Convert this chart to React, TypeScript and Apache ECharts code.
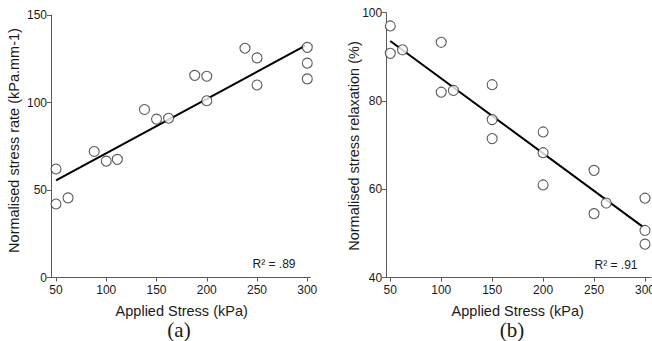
import React, { useEffect, useRef } from "react";
import * as echarts from "echarts";

// Panel (a): normalised stress rate vs applied stress
const stressA = [50, 50, 62, 88, 100, 111, 138, 150, 162, 188, 200, 200, 238, 250, 250, 300, 300, 300];
const rateA = [62, 42, 45.5, 72, 66.5, 67.5, 96, 90.5, 91, 115.5, 115, 101, 131, 125.5, 110, 131.5, 122.5, 113.5];
const fitAx = [50, 298];
const fitAy = [55.5, 132.5];

// Panel (b): normalised stress relaxation vs applied stress
const stressB = [50, 50, 62, 100, 100, 112, 150, 150, 150, 200, 200, 200, 250, 262, 250, 300, 300, 300];
const relaxB = [97, 90.8, 91.6, 93.3, 82, 82.4, 83.7, 75.8, 71.5, 73, 68.3, 61, 64.3, 56.9, 54.5, 58, 50.7, 47.6];
const fitBx = [50, 298];
const fitBy = [93.6, 51.5];

const xTicks = [50, 100, 150, 200, 250, 300];

const titleX = "Applied Stress (kPa)";
const titleYA = "Normalised stress rate (kPa.mm-1)";
const titleYB = "Normalised stress relaxation (%)";
const r2A = "R² = .89";
const r2B = "R² = .91";

const SANS = "'Liberation Sans', Arial, Helvetica, sans-serif";
const SERIF = "'Liberation Serif', 'Times New Roman', serif";
const AXIS_COLOR = "#5a5a5a";
const TEXT_COLOR = "#1a1a1a";

function xAxisCfg(gridIndex: number, min: number, max: number) {
  return {
    type: "value",
    gridIndex,
    min,
    max,
    axisLine: { show: true, onZero: false, lineStyle: { color: AXIS_COLOR, width: 1 } },
    axisTick: { show: true, length: 4, customValues: xTicks, lineStyle: { color: AXIS_COLOR } },
    axisLabel: { customValues: xTicks, margin: 6, color: TEXT_COLOR, fontSize: 12, fontFamily: SANS },
    splitLine: { show: false },
  };
}

function yAxisCfg(gridIndex: number, min: number, max: number, interval: number) {
  return {
    type: "value",
    gridIndex,
    min,
    max,
    interval,
    axisLine: { show: true, onZero: false, lineStyle: { color: AXIS_COLOR, width: 1 } },
    axisTick: { show: true, length: 4, lineStyle: { color: AXIS_COLOR } },
    axisLabel: { margin: 4, color: TEXT_COLOR, fontSize: 12, fontFamily: SANS },
    splitLine: { show: false },
  };
}

const markerStyle = { color: "#ffffff", borderColor: "#333333", borderWidth: 1.1 };

export default function App() {
  const ref = useRef<HTMLDivElement>(null);
  useEffect(() => {
    if (!ref.current) return;
    const chart = echarts.init(ref.current, null, { renderer: "svg" });
    const ptsA = stressA.map((x, i) => [x, rateA[i]]);
    const ptsB = stressB.map((x, i) => [x, relaxB[i]]);
    const lineA = fitAx.map((x, i) => [x, fitAy[i]]);
    const lineB = fitBx.map((x, i) => [x, fitBy[i]]);
    chart.setOption({
      animation: false,
      backgroundColor: "#ffffff",
      grid: [
        { left: 51, top: 15, width: 259.3, height: 262.5, outerBoundsMode: "none", containLabel: false },
        { left: 386.2, top: 12.7, width: 264.9, height: 265, outerBoundsMode: "none", containLabel: false },
      ],
      xAxis: [xAxisCfg(0, 45, 303), xAxisCfg(1, 46, 306)],
      yAxis: [yAxisCfg(0, 0, 150, 50), yAxisCfg(1, 40, 100, 20)],
      series: [
        {
          type: "line",
          xAxisIndex: 0,
          yAxisIndex: 0,
          data: lineA,
          showSymbol: false,
          lineStyle: { color: "#000", width: 2 },
          z: 2,
        },
        {
          type: "scatter",
          xAxisIndex: 0,
          yAxisIndex: 0,
          data: ptsA,
          symbol: "circle",
          symbolSize: 10,
          itemStyle: markerStyle,
          z: 3,
        },
        {
          type: "line",
          xAxisIndex: 1,
          yAxisIndex: 1,
          data: lineB,
          showSymbol: false,
          lineStyle: { color: "#000", width: 2 },
          z: 2,
        },
        {
          type: "scatter",
          xAxisIndex: 1,
          yAxisIndex: 1,
          data: ptsB,
          symbol: "circle",
          symbolSize: 10,
          itemStyle: markerStyle,
          z: 3,
        },
      ],
      graphic: [
        {
          type: "text",
          x: 14,
          y: 140.5,
          rotation: Math.PI / 2,
          style: { text: titleYA, fill: TEXT_COLOR, font: `14.5px ${SANS}`, align: "center", verticalAlign: "middle" },
        },
        {
          type: "text",
          x: 353.7,
          y: 146,
          rotation: Math.PI / 2,
          style: { text: titleYB, fill: TEXT_COLOR, font: `14.5px ${SANS}`, align: "center", verticalAlign: "middle" },
        },
        {
          type: "text",
          x: 181.7,
          y: 311,
          style: { text: titleX, fill: TEXT_COLOR, font: `14.5px ${SANS}`, align: "center", verticalAlign: "middle" },
        },
        {
          type: "text",
          x: 517.7,
          y: 311,
          style: { text: titleX, fill: TEXT_COLOR, font: `14.5px ${SANS}`, align: "center", verticalAlign: "middle" },
        },
        {
          type: "text",
          x: 179,
          y: 330,
          style: { text: "(a)", fill: TEXT_COLOR, font: `21px ${SERIF}`, align: "center", verticalAlign: "middle" },
        },
        {
          type: "text",
          x: 512,
          y: 330,
          style: { text: "(b)", fill: TEXT_COLOR, font: `21px ${SERIF}`, align: "center", verticalAlign: "middle" },
        },
        {
          type: "text",
          x: 274,
          y: 264,
          style: { text: r2A, fill: TEXT_COLOR, font: `12px ${SANS}`, align: "center", verticalAlign: "middle" },
        },
        {
          type: "text",
          x: 616,
          y: 264.5,
          style: { text: r2B, fill: TEXT_COLOR, font: `12px ${SANS}`, align: "center", verticalAlign: "middle" },
        },
      ],
    });
    return () => chart.dispose();
  }, []);
  return (
    <div
      ref={ref}
      style={{ position: "absolute", left: 0, top: 0, width: 652, height: 341, background: "#fff" }}
    />
  );
}
